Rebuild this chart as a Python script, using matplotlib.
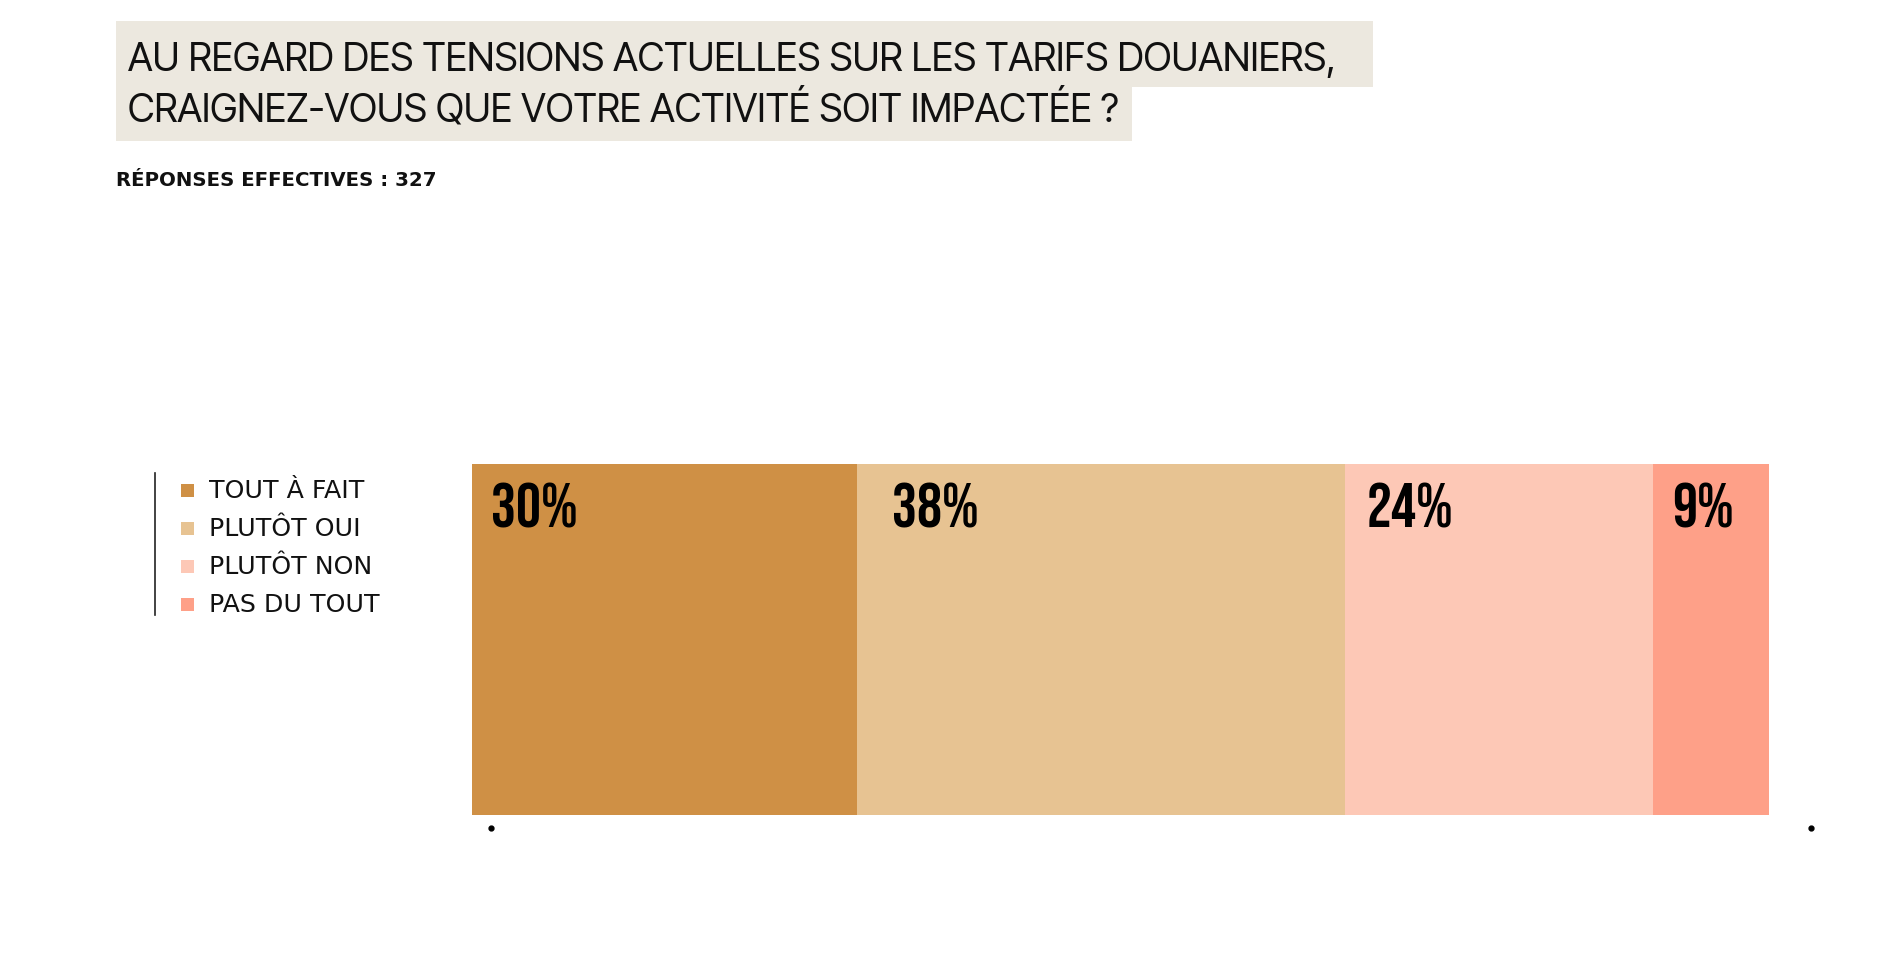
import matplotlib
matplotlib.use("Agg")
import matplotlib.pyplot as plt
from matplotlib.patches import Rectangle
from matplotlib.lines import Line2D
import numpy as np

# data
categories = ["TOUT À FAIT", "PLUTÔT OUI", "PLUTÔT NON", "PAS DU TOUT"]
values = [30, 38, 24, 9]
colors = ["#CF9045", "#E7C392", "#FDC8B6", "#FEA088"]
title_lines = ["AU REGARD DES TENSIONS ACTUELLES SUR LES TARIFS DOUANIERS,",
               "CRAIGNEZ-VOUS QUE VOTRE ACTIVITÉ SOIT IMPACTÉE ?"]
subtitle = "RÉPONSES EFFECTIVES : 327"

W, H = 1893, 973
fig = plt.figure(figsize=(W / 100, H / 100), dpi=100)
fig.patch.set_facecolor("white")


def fx(px):
    return px / W


def fy(py):
    return 1 - py / H


title_font = ["Inter Tight", "Roboto", "DejaVu Sans"]
body_font = ["DejaVu Sans"]
num_font = ["Bebas Neue", "Oswald", "DejaVu Sans"]

# title with beige background boxes
bg = "#ECE8DF"
fig.add_artist(Rectangle((fx(116), fy(87)), fx(1373) - fx(116), fy(21) - fy(87),
                         transform=fig.transFigure, color=bg, lw=0, zorder=0))
fig.add_artist(Rectangle((fx(116), fy(141)), fx(1132) - fx(116), fy(87) - fy(141),
                         transform=fig.transFigure, color=bg, lw=0, zorder=0))
fig.text(fx(128), fy(71), title_lines[0], family=title_font, weight="light",
         fontsize=28, va="baseline", ha="left", color="#111111")
fig.text(fx(128), fy(121), title_lines[1], family=title_font, weight="light",
         fontsize=28, va="baseline", ha="left", color="#111111")

fig.text(fx(116), fy(186), subtitle, family=body_font, weight="bold",
         fontsize=14.2, va="baseline", ha="left", color="#111111")

# legend
fig.add_artist(Line2D([fx(154.5), fx(154.5)], [fy(473), fy(615)],
                      transform=fig.transFigure, color="#222222", lw=1.2))
legend_y = [490, 528, 566, 604]
for cat, col, ly in zip(categories, colors, legend_y):
    fig.add_artist(Rectangle((fx(181), fy(ly + 6.5)), fx(13), 13 / H,
                             transform=fig.transFigure, color=col, lw=0))
    fig.text(fx(209), fy(ly + 8), cat, family=body_font, fontsize=18.2,
             va="baseline", ha="left", color="#111111")

# stacked bar
ax = fig.add_axes([fx(472), (H - 815) / H, 1297 / W, 351 / H])
lefts = np.concatenate([[0], np.cumsum(values)[:-1]])
ax.barh(0, values, left=lefts, height=1, color=colors, linewidth=0)
ax.set_xlim(0, sum(values))
ax.set_ylim(-0.5, 0.5)
ax.axis("off")

label_pad = [19, 35, 21, 19]
for v, l, p in zip(values, lefts, label_pad):
    ax.annotate(f"{v}%", xy=(l, 0.5), xytext=(p, -19), textcoords="offset pixels",
                family=num_font, fontsize=45, va="top", ha="left", color="black")

# small dots under the bar
ax.plot([19 / 1297, 1339 / 1297], [-13 / 351, -13 / 351], "o", color="black",
        markersize=3.5, transform=ax.transAxes, clip_on=False)

fig.savefig("out.png", dpi=100, facecolor="white")
